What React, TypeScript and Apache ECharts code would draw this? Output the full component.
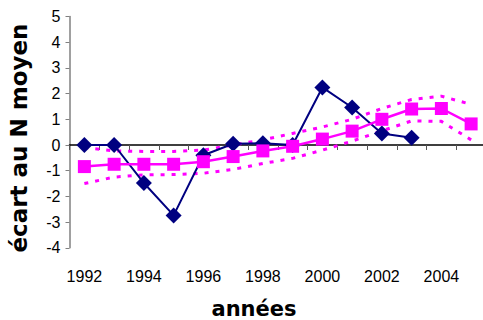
import React, { useEffect, useRef } from "react";
import * as echarts from "echarts";

const years = ["1992","1993","1994","1995","1996","1997","1998","1999","2000","2001","2002","2003","2004","2005"];
const navyValues = [0, 0, -1.48, -2.74, -0.4, 0.05, 0.07, 0, 2.24, 1.46, 0.45, 0.28, null, null];
const meanValues = [-0.84, -0.75, -0.75, -0.75, -0.65, -0.45, -0.23, -0.05, 0.23, 0.54, 1.0, 1.4, 1.42, 0.82];
const upperValues = [-0.1, -0.23, -0.25, -0.25, -0.2, 0.0, 0.2, 0.45, 0.7, 1.0, 1.42, 1.77, 1.9, 1.58];
const lowerValues = [-1.5, -1.25, -1.16, -1.15, -1.1, -0.95, -0.72, -0.52, -0.2, 0.15, 0.55, 0.94, 0.92, 0.2];
const yTitle = "écart au N moyen";
const xTitle = "années";

const labelFont = "'Liberation Sans', Arial, sans-serif";

export default function App() {
  const ref = useRef<HTMLDivElement>(null);
  useEffect(() => {
    document.body.style.margin = "0";
    const chart = echarts.init(ref.current!, null, { renderer: "svg" });
    const band = (name: string, data: number[]) => ({
      name,
      type: "line",
      data,
      xAxisIndex: 0,
      symbol: "none",
      z: 2,
      lineStyle: { color: "#FF00FF", width: 3, type: [4, 7] },
    });
    chart.setOption({
      animation: false,
      backgroundColor: "#ffffff",
      grid: { left: 69.5, top: 16.5, width: 416.5, height: 231.3, outerBoundsMode: "none", containLabel: false },
      xAxis: [
        {
          type: "category",
          data: years,
          position: "bottom",
          boundaryGap: true,
          axisLine: { show: false, onZero: false },
          axisTick: { show: false },
          axisLabel: { interval: 1, margin: 21, fontSize: 16, color: "#000", fontFamily: labelFont },
          splitLine: { show: false },
        },
        {
          type: "category",
          data: years,
          position: "top",
          boundaryGap: true,
          axisLine: { show: true, onZero: true, lineStyle: { color: "#000", width: 1.5 } },
          axisTick: { show: true, inside: true, length: 5, interval: 0, lineStyle: { color: "#555", width: 1 } },
          axisLabel: { show: false },
          splitLine: { show: false },
        },
      ],
      yAxis: {
        type: "value",
        min: -4,
        max: 5,
        interval: 1,
        axisLine: { show: true, lineStyle: { color: "#808080", width: 1.5 } },
        axisTick: { show: true, length: 4, lineStyle: { color: "#808080", width: 1 } },
        axisLabel: { margin: 9, fontSize: 16, color: "#000", fontFamily: labelFont },
        splitLine: { show: false },
      },
      series: [
        band("upper", upperValues),
        band("lower", lowerValues),
        {
          name: "navy",
          type: "line",
          data: navyValues,
          xAxisIndex: 0,
          symbol: "diamond",
          symbolSize: 16,
          z: 3,
          lineStyle: { color: "#000080", width: 2 },
          itemStyle: { color: "#000080" },
        },
        {
          name: "mean",
          type: "line",
          data: meanValues,
          xAxisIndex: 0,
          symbol: "rect",
          symbolSize: 13,
          z: 4,
          lineStyle: { color: "#FF00FF", width: 2.5 },
          itemStyle: { color: "#FF00FF" },
        },
      ],
      graphic: [
        {
          type: "text",
          x: 19,
          y: 138,
          rotation: Math.PI / 2,
          style: {
            text: yTitle,
            fontFamily: "'DejaVu Sans', sans-serif",
            fontWeight: "bold",
            fontSize: 23,
            fill: "#000",
            align: "center",
            verticalAlign: "middle",
          },
        },
        {
          type: "text",
          x: 254,
          y: 309,
          style: {
            text: xTitle,
            fontFamily: "'DejaVu Sans', sans-serif",
            fontWeight: "bold",
            fontSize: 21,
            fill: "#000",
            align: "center",
            verticalAlign: "middle",
          },
        },
      ],
    });
    return () => chart.dispose();
  }, []);
  return <div ref={ref} style={{ width: 483, height: 320 }} />;
}
